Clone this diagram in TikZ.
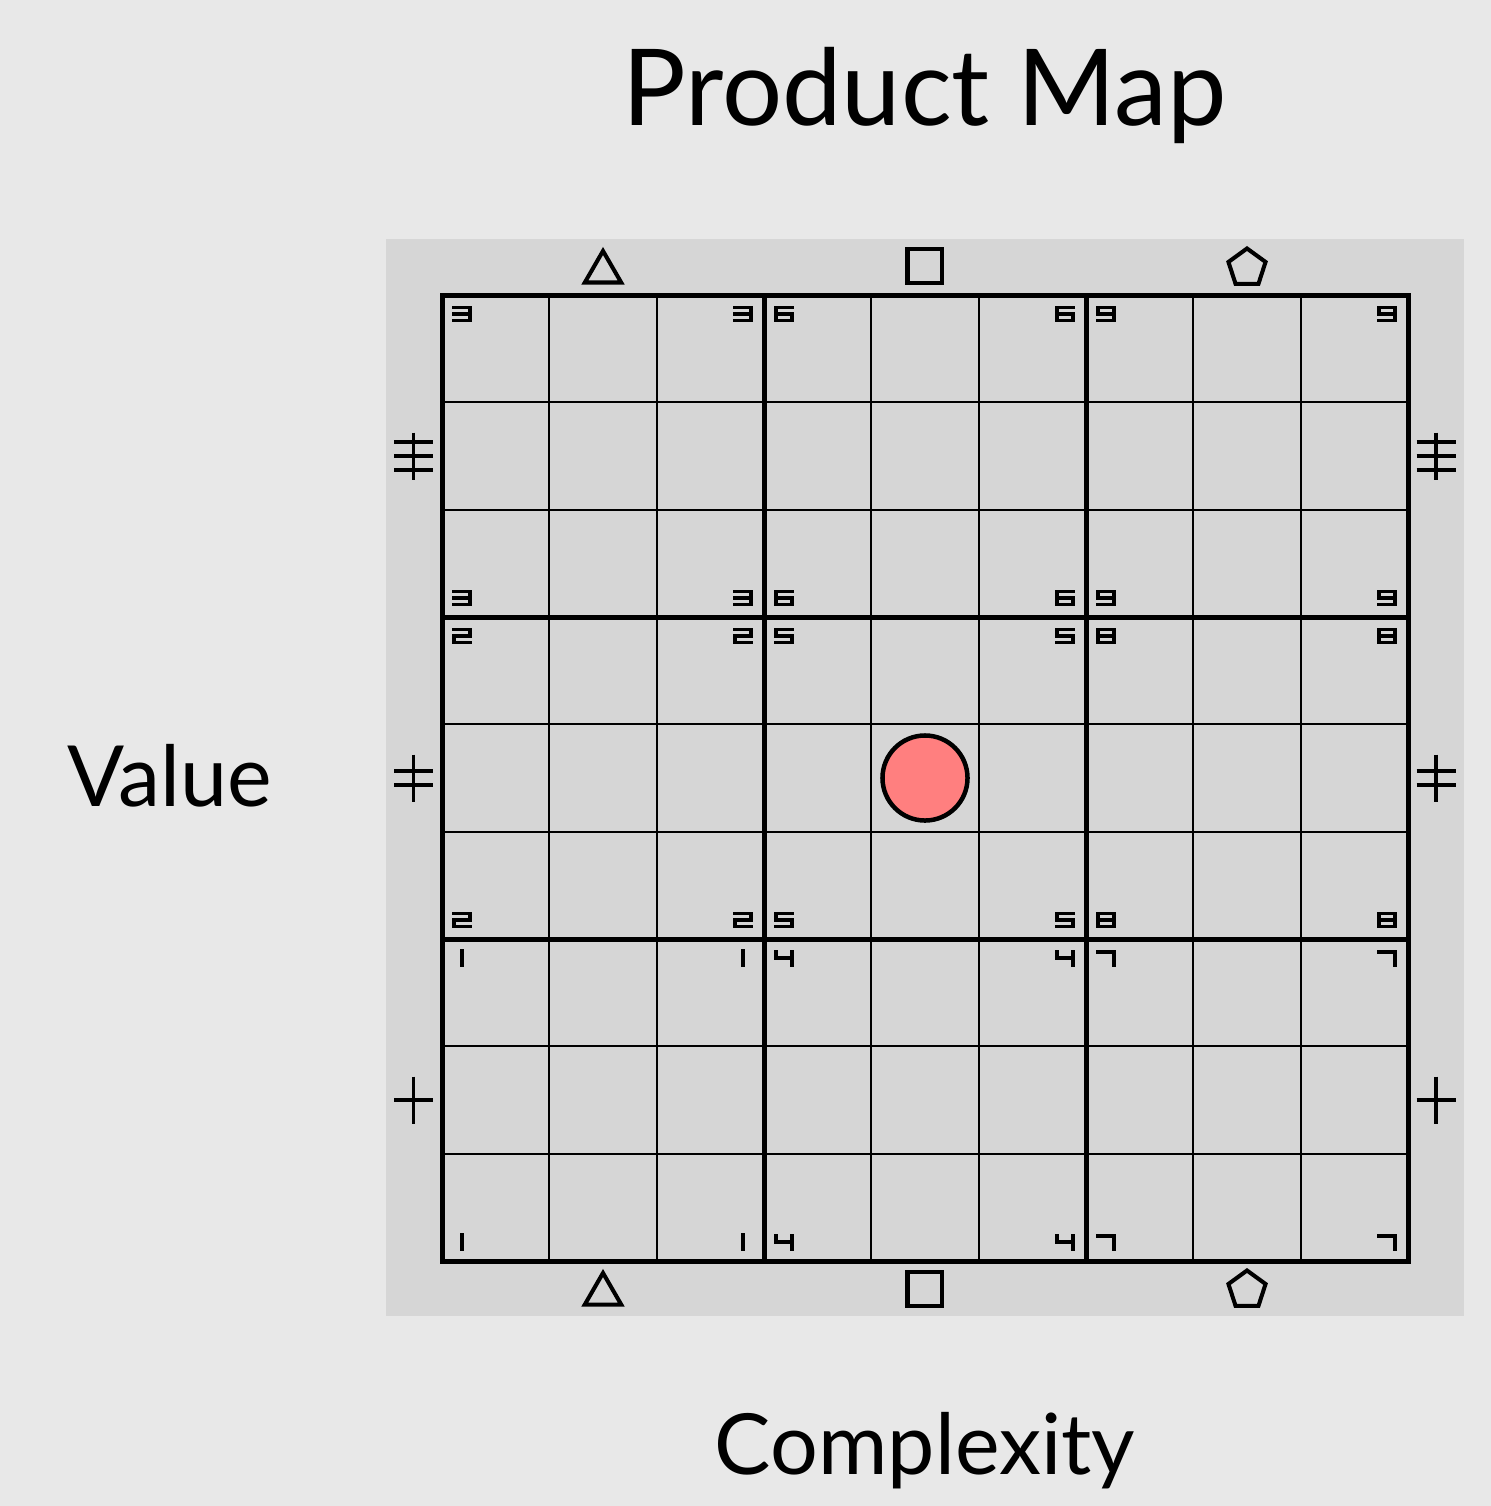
\documentclass[tikz,border=0pt]{standalone}
\usepackage{fontspec}
\setmainfont{Lato}
\usetikzlibrary{shapes.geometric,positioning}
\definecolor{pmBack}{RGB}{232,232,232}
\definecolor{pmPanel}{RGB}{214,214,214}
\definecolor{pmDot}{RGB}{255,127,127}

% segment paths of the corner numbers (centre at 0,0, y pointing down)
\expandafter\def\csname pmseg1\endcsname{(0,-7)--(0,7)}
\expandafter\def\csname pmseg2\endcsname{(-8,-6.5)--(8,-6.5)--(8,0)--(-8,0)--(-8,6.5)--(8,6.5)}
\expandafter\def\csname pmseg3\endcsname{(-8,-6.5)--(8,-6.5)--(8,6.5)--(-8,6.5) (-8,0)--(8,0)}
\expandafter\def\csname pmseg4\endcsname{(-8,-6.5)--(-8,0)--(8,0) (8,-6.5)--(8,6.5)}
\expandafter\def\csname pmseg5\endcsname{(8,-6.5)--(-8,-6.5)--(-8,0)--(8,0)--(8,6.5)--(-8,6.5)}
\expandafter\def\csname pmseg6\endcsname{(8,-6.5)--(-8,-6.5)--(-8,6.5)--(8,6.5)--(8,0)--(-8,0)}
\expandafter\def\csname pmseg7\endcsname{(-8,-6.5)--(8,-6.5)--(8,6.5)}
\expandafter\def\csname pmseg8\endcsname{(-8,-6.5) rectangle (8,6.5) (-8,0)--(8,0)}
\expandafter\def\csname pmseg9\endcsname{(-8,0)--(-8,-6.5)--(8,-6.5)--(8,6.5)--(-8,6.5) (-8,0)--(8,0)}
\newcommand{\pmdigitdraw}[2]{\draw[digitline,shift={#2}] #1;}
\newcommand{\pmdigit}[2]{\expandafter\pmdigitdraw\csname pmseg#2\endcsname{#1}}

% value marks on the sides: one stem, #2 bars
\newcommand{\pmcross}[2]{%
  \begin{scope}[shift={#1}]
    \draw[crossline] (0,-23.5) -- (0,23.5);
    \ifcase#2\or
      \draw[crossline] (-19.5,0) -- (19.5,0);
    \or
      \draw[crossline] (-19.5,-7) -- (19.5,-7) (-19.5,7) -- (19.5,7);
    \or
      \draw[crossline] (-19.5,-14) -- (19.5,-14) (-19.5,0) -- (19.5,0)
                       (-19.5,14) -- (19.5,14);
    \fi
  \end{scope}}

\begin{document}
\begin{tikzpicture}[
  x=0.01cm,y=-0.01cm,
  thinrule/.style={line width=0.57pt,black},
  thickrule/.style={line width=1.42pt,black},
  digitline/.style={line width=1.13pt,line cap=rect},
  crossline/.style={line width=1.13pt},
  marker/.style={draw,line width=1.15pt,inner sep=0pt,outer sep=0pt},
  titletext/.style={font=\fontsize{30.2}{36}\selectfont,anchor=base},
  axistext/.style={font=\fontsize{24}{29}\selectfont,anchor=base},
]
\fill[pmBack] (0,0) rectangle (1491,1506);
\useasboundingbox (0,0) rectangle (1491,1506);
\fill[pmPanel] (386,239) rectangle (1464,1316);

\node[titletext] (title) at (924.5,125) {Product Map};
\node[axistext] (yname) at (170,806) {Value};
\node[axistext] (xname) at (925,1474) {Complexity};

% grid
\foreach \k in {1,2,4,5,7,8}{
  \draw[thinrule] ({442+\k*107.333},295) -- ++(0,966);
  \draw[thinrule] (442,{295+\k*107.333}) -- ++(966,0);
}
\foreach \k in {1,2}{
  \draw[thickrule] ({442+\k*322},295) -- ++(0,966);
  \draw[thickrule] (442,{295+\k*322}) -- ++(966,0);
}
\draw[thickrule] (442,295) rectangle (1408,1261);

% block numbers in the corners
\foreach \i in {0,1,2}{
  \foreach \j in {0,1,2}{
    \pgfmathtruncatemacro\blk{3*\i+3-\j}
    \pgfmathsetmacro\bx{442+322*\i}
    \pgfmathsetmacro\by{295+322*\j}
    \pmdigit{(\bx+20,\by+19)}{\blk}
    \pmdigit{(\bx+301,\by+19)}{\blk}
    \pmdigit{(\bx+20,\by+303)}{\blk}
    \pmdigit{(\bx+301,\by+303)}{\blk}
  }
}

% column markers
\node[marker,regular polygon,regular polygon sides=3,minimum size=0.42cm] (triN) at (603,272) {};
\node[marker,minimum size=0.34cm] (sqN) at (924.5,266) {};
\node[marker,regular polygon,regular polygon sides=5,minimum size=0.39cm] (pentN) at (1247,268) {};
\node[marker,regular polygon,regular polygon sides=3,minimum size=0.42cm] (triS) at (603,1294) {};
\node[marker,minimum size=0.34cm] (sqS) at (924.5,1289) {};
\node[marker,regular polygon,regular polygon sides=5,minimum size=0.39cm] (pentS) at (1247,1290) {};

% row markers
\pmcross{(413.5,456)}{3}
\pmcross{(413.5,778)}{2}
\pmcross{(413.5,1100)}{1}
\pmcross{(1436,456)}{3}
\pmcross{(1436,778)}{2}
\pmcross{(1436,1100)}{1}

% current product
\node[draw,circle,fill=pmDot,line width=1.28pt,minimum size=0.85cm,inner sep=0pt] (dot) at (925,778) {};
\end{tikzpicture}
\end{document}
